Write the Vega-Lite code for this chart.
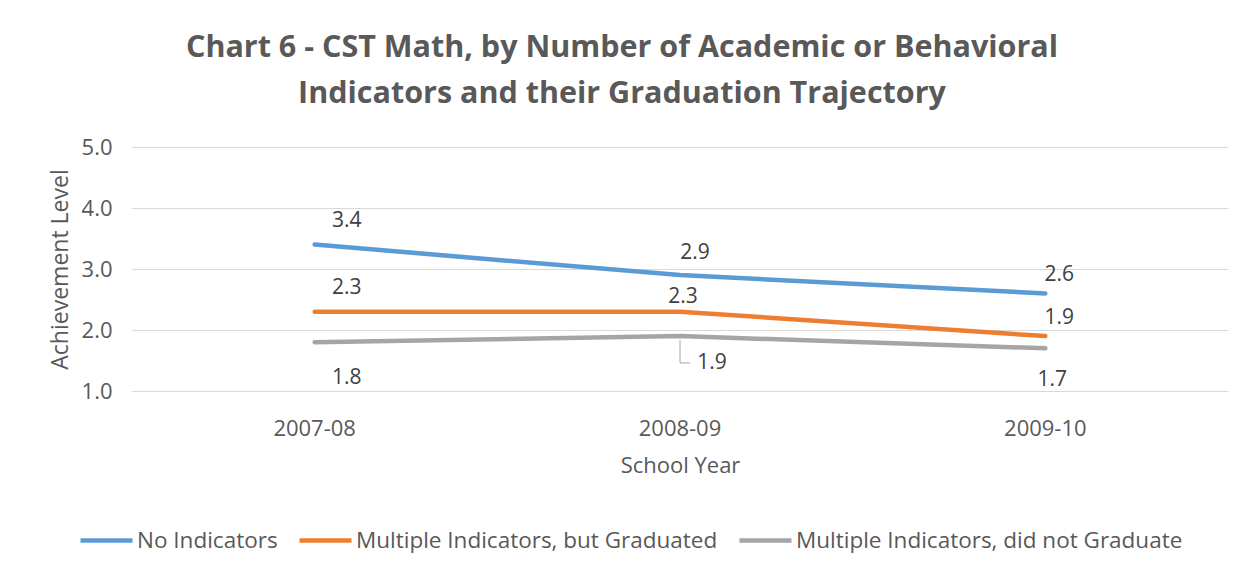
{
  "$schema": "https://vega.github.io/schema/vega-lite/v6.json",
  "autosize": {"type": "none"},
  "width": 1096,
  "height": 244,
  "padding": {"left": 132, "top": 147, "right": 19, "bottom": 186},
  "background": "white",
  "title": {
    "text": ["Chart 6 - CST Math, by Number of Academic or Behavioral", "Indicators and their Graduation Trajectory"],
    "font": "Open Sans",
    "fontSize": 30.5,
    "fontWeight": "bold",
    "color": "#595959",
    "anchor": "middle",
    "frame": "group",
    "dx": -58,
    "lineHeight": 46,
    "offset": 27
  },
  "data": {
    "values": [
      {"year": "2007-08", "series": "No Indicators", "value": 3.4},
      {"year": "2008-09", "series": "No Indicators", "value": 2.9},
      {"year": "2009-10", "series": "No Indicators", "value": 2.6},
      {"year": "2007-08", "series": "Multiple Indicators, but Graduated", "value": 2.3},
      {"year": "2008-09", "series": "Multiple Indicators, but Graduated", "value": 2.3},
      {"year": "2009-10", "series": "Multiple Indicators, but Graduated", "value": 1.9},
      {"year": "2007-08", "series": "Multiple Indicators, did not Graduate", "value": 1.8},
      {"year": "2008-09", "series": "Multiple Indicators, did not Graduate", "value": 1.9},
      {"year": "2009-10", "series": "Multiple Indicators, did not Graduate", "value": 1.7}
    ]
  },
  "encoding": {
    "x": {
      "field": "year", "type": "ordinal",
      "scale": {"type": "band", "paddingInner": 0, "paddingOuter": 0},
      "axis": {
        "title": "School Year", "labelAngle": 0, "domain": false, "ticks": false, "grid": false,
        "labelFont": "Open Sans", "labelFontSize": 22, "labelColor": "#595959", "labelPadding": 27,
        "titleFont": "Open Sans", "titleFontSize": 22, "titleFontWeight": "normal", "titleColor": "#595959", "titlePadding": 16
      }
    },
    "y": {
      "field": "value", "type": "quantitative",
      "scale": {"domain": [1, 5], "nice": false, "zero": false},
      "axis": {
        "title": "Achievement Level", "values": [1, 2, 3, 4, 5], "format": ".1f",
        "domain": false, "ticks": false, "gridColor": "#d9d9d9", "gridWidth": 1,
        "labelFont": "Open Sans", "labelFontSize": 22, "labelColor": "#595959", "labelPadding": 20,
        "titleFont": "Open Sans", "titleFontSize": 23, "titleFontWeight": "normal", "titleColor": "#595959", "titlePadding": 9
      }
    }
  },
  "layer": [
    {
      "mark": {"type": "line", "strokeWidth": 4.5, "strokeCap": "round", "strokeJoin": "round"},
      "encoding": {
        "color": {
          "field": "series", "type": "nominal",
          "scale": {
            "domain": ["No Indicators", "Multiple Indicators, but Graduated", "Multiple Indicators, did not Graduate"],
            "range": ["#5b9bd5", "#ed7d31", "#a5a5a5"]
          },
          "legend": {
            "title": null, "orient": "none", "direction": "horizontal",
            "legendX": -54, "legendY": 365,
            "symbolType": "stroke", "symbolSize": 2704, "symbolStrokeWidth": 4.5,
            "labelFont": "Open Sans", "labelFontSize": 22.5, "labelColor": "#595959",
            "labelOffset": 2, "columnPadding": 12, "labelLimit": 600
          }
        }
      }
    },
    {
      "transform": [{"filter": "datum.year == '2007-08' && datum.series != 'Multiple Indicators, did not Graduate'"}],
      "mark": {"type": "text", "dx": 32, "dy": -24, "font": "Open Sans", "fontSize": 21, "color": "#404040"},
      "encoding": {"text": {"field": "value", "type": "quantitative", "format": ".1f"}}
    },
    {
      "transform": [{"filter": "datum.year == '2007-08' && datum.series == 'Multiple Indicators, did not Graduate'"}],
      "mark": {"type": "text", "dx": 32, "dy": 36, "font": "Open Sans", "fontSize": 21, "color": "#404040"},
      "encoding": {"text": {"field": "value", "type": "quantitative", "format": ".1f"}}
    },
    {
      "transform": [{"filter": "datum.year == '2008-09' && datum.series == 'No Indicators'"}],
      "mark": {"type": "text", "dx": 15, "dy": -22, "font": "Open Sans", "fontSize": 21, "color": "#404040"},
      "encoding": {"text": {"field": "value", "type": "quantitative", "format": ".1f"}}
    },
    {
      "transform": [{"filter": "datum.year == '2008-09' && datum.series == 'Multiple Indicators, but Graduated'"}],
      "mark": {"type": "text", "dx": 3, "dy": -15, "font": "Open Sans", "fontSize": 21, "color": "#404040"},
      "encoding": {"text": {"field": "value", "type": "quantitative", "format": ".1f"}}
    },
    {
      "transform": [{"filter": "datum.year == '2008-09' && datum.series == 'Multiple Indicators, did not Graduate'"}],
      "mark": {"type": "text", "dx": 32, "dy": 27, "font": "Open Sans", "fontSize": 21, "color": "#404040"},
      "encoding": {"text": {"field": "value", "type": "quantitative", "format": ".1f"}}
    },
    {
      "transform": [{"filter": "datum.year == '2009-10' && datum.series != 'Multiple Indicators, did not Graduate'"}],
      "mark": {"type": "text", "dx": 14, "dy": -18, "font": "Open Sans", "fontSize": 21, "color": "#404040"},
      "encoding": {"text": {"field": "value", "type": "quantitative", "format": ".1f"}}
    },
    {
      "transform": [{"filter": "datum.year == '2009-10' && datum.series == 'Multiple Indicators, did not Graduate'"}],
      "mark": {"type": "text", "dx": 7, "dy": 32, "font": "Open Sans", "fontSize": 21, "color": "#404040"},
      "encoding": {"text": {"field": "value", "type": "quantitative", "format": ".1f"}}
    },
    {
      "transform": [{"filter": "datum.year == '2008-09' && datum.series == 'Multiple Indicators, did not Graduate'"}],
      "mark": {"type": "rule", "color": "#a6a6a6", "strokeWidth": 1},
      "encoding": {"y": {"datum": 1.83}, "y2": {"datum": 1.46}}
    },
    {
      "transform": [{"filter": "datum.year == '2008-09' && datum.series == 'Multiple Indicators, did not Graduate'"}],
      "mark": {"type": "rule", "color": "#a6a6a6", "strokeWidth": 1, "x2Offset": 10},
      "encoding": {"y": {"datum": 1.46}, "x2": {"field": "year"}}
    }
  ],
  "config": {
    "view": {"stroke": null}
  }
}
